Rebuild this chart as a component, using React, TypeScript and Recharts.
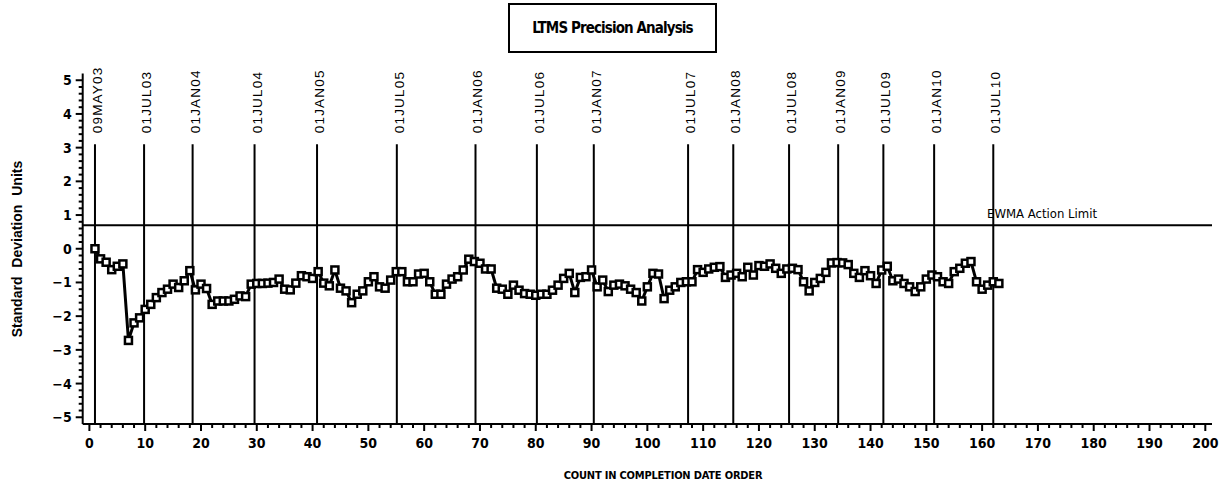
import React from 'react';
import { LineChart, Line, XAxis, YAxis, ReferenceLine } from 'recharts';

// EWMA values, one per test, in completion date order
const ewmaValues = [
  0.0, -0.3, -0.4, -0.62, -0.52, -0.45, -2.72, -2.2, -2.05, -1.8,
  -1.65, -1.45, -1.3, -1.2, -1.05, -1.15, -0.95, -0.65, -1.22, -1.05,
  -1.18, -1.65, -1.55, -1.55, -1.55, -1.5, -1.4, -1.42, -1.05, -1.03,
  -1.03, -1.02, -1.0, -0.9, -1.2, -1.22, -1.02, -0.8, -0.83, -0.88,
  -0.68, -1.02, -1.1, -0.63, -1.17, -1.25, -1.6, -1.35, -1.25, -0.98,
  -0.83, -1.13, -1.17, -0.93, -0.68, -0.68, -0.98, -0.98, -0.75, -0.73,
  -0.98, -1.35, -1.35, -1.05, -0.9, -0.83, -0.63, -0.31, -0.38, -0.43,
  -0.6, -0.6, -1.17, -1.2, -1.35, -1.08, -1.23, -1.33, -1.35, -1.38,
  -1.35, -1.35, -1.23, -1.08, -0.88, -0.73, -1.3, -0.85, -0.83, -0.63,
  -1.13, -0.93, -1.27, -1.08, -1.05, -1.1, -1.2, -1.3, -1.55, -1.13,
  -0.73, -0.75, -1.48, -1.23, -1.13, -1.0, -0.98, -0.98, -0.62, -0.7,
  -0.6, -0.55, -0.53, -0.85, -0.78, -0.73, -0.83, -0.55, -0.78, -0.5,
  -0.52, -0.45, -0.58, -0.73, -0.6, -0.58, -0.62, -0.98, -1.25, -1.0,
  -0.88, -0.7, -0.42, -0.41, -0.42, -0.47, -0.73, -0.85, -0.65, -0.8,
  -1.03, -0.63, -0.52, -0.95, -0.9, -1.03, -1.13, -1.27, -1.13, -0.9,
  -0.78, -0.83, -0.98, -1.03, -0.68, -0.58, -0.43, -0.38, -0.98, -1.2,
  -1.08, -0.98, -1.03,
];

// date markers along the count axis
const dateLabels = [
  '09MAY03', '01JUL03', '01JAN04', '01JUL04', '01JAN05', '01JUL05', '01JAN06', '01JUL06',
  '01JAN07', '01JUL07', '01JAN08', '01JUL08', '01JAN09', '01JUL09', '01JAN10', '01JUL10',
];
const dateCounts = [
  1.0, 9.8, 18.5, 29.6, 40.8, 55.1, 69.2, 80.2,
  90.4, 107.3, 115.4, 125.4, 134.2, 142.3, 151.4, 162.0,
];

const actionLimit = 0.7;

const xMajorTicks = [0, 10, 20, 30, 40, 50, 60, 70, 80, 90, 100, 110, 120, 130, 140, 150, 160, 170, 180, 190, 200];
const yMajorTicks = [-5, -4, -3, -2, -1, 0, 1, 2, 3, 4, 5];

const xTicks: number[] = [];
for (let i = 0; i <= 100; i++) xTicks.push(i * 2);
const yTicks: number[] = [];
for (let i = -25; i <= 25; i++) yTicks.push(Math.round(i * 2) / 10);

const chartData = ewmaValues.map((v, i) => ({ count: i + 1, ewma: v }));

const PLOT_LEFT = 82.7;
const PLOT_BOTTOM = 424;
const tickFont = "'Liberation Sans Narrow', 'DejaVu Sans Condensed', sans-serif";

const fmt = (v: number) => (v < 0 ? `\u2212${-v}` : `${v}`);

const XTick = (props: any) => {
  const { payload } = props;
  const x = payload.coordinate;
  const major = xMajorTicks.includes(payload.value);
  return (
    <g>
      <line x1={x} x2={x} y1={PLOT_BOTTOM} y2={PLOT_BOTTOM + (major ? 7 : 4)} stroke="#000" strokeWidth={2} />
      {major && (
        <text x={x} y={PLOT_BOTTOM + 24} textAnchor="middle" fontFamily={tickFont} fontWeight="bold" fontSize={14} fill="#000">
          {payload.value}
        </text>
      )}
    </g>
  );
};

const YTick = (props: any) => {
  const { payload } = props;
  const y = payload.coordinate;
  const major = yMajorTicks.some((t) => Math.abs(t - payload.value) < 1e-6);
  return (
    <g>
      <line x1={PLOT_LEFT - (major ? 7 : 4)} x2={PLOT_LEFT} y1={y} y2={y} stroke="#000" strokeWidth={2} />
      {major && (
        <text x={PLOT_LEFT - 11} y={y + 5} textAnchor="end" fontFamily={tickFont} fontWeight="bold" fontSize={14} fill="#000">
          {fmt(Math.round(payload.value))}
        </text>
      )}
    </g>
  );
};

const SquareDot = (props: any) => {
  const { cx, cy, index } = props;
  if (cx == null || cy == null) return null;
  return <rect key={`d${index}`} x={cx - 3.5} y={cy - 3.5} width={7} height={7} fill="#fff" stroke="#000" strokeWidth={2.5} />;
};

const dateLabel = (text: string) => (props: any) => {
  const vb = props.viewBox || {};
  const x = vb.x + 7;
  const y = vb.y - 11;
  return (
    <text
      x={x}
      y={y}
      transform={`rotate(-90, ${x}, ${y})`}
      fontFamily="'Liberation Sans', Arial, sans-serif"
      fontSize={13.5}
      letterSpacing={1.2}
      fill="#000"
    >
      {text}
    </text>
  );
};

export default function App() {
  return (
    <div style={{ position: 'absolute', left: 0, top: 0, width: 1225, height: 489, background: '#fff' }}>
      <div
        style={{
          position: 'absolute',
          left: 508,
          top: 3,
          width: 205,
          height: 46,
          border: '2px solid #000',
          display: 'flex',
          alignItems: 'center',
          justifyContent: 'center',
          fontFamily: tickFont,
          fontWeight: 'bold',
          fontSize: 15,
          letterSpacing: -0.9,
        }}
      >
        LTMS Precision Analysis
      </div>
      <LineChart
        width={1225}
        height={489}
        data={chartData}
        margin={{ top: 73.5, right: 13, bottom: 25, left: PLOT_LEFT - 60 }}
      >
        <XAxis
          dataKey="count"
          type="number"
          domain={[-1.2, 201.2]}
          ticks={xTicks}
          interval={0}
          height={40}
          allowDataOverflow
          axisLine={{ stroke: '#000', strokeWidth: 2 }}
          tickLine={false}
          tick={<XTick />}
        />
        <YAxis
          type="number"
          domain={[-5.2, 5.2]}
          ticks={yTicks}
          interval={0}
          width={60}
          allowDataOverflow
          axisLine={{ stroke: '#000', strokeWidth: 2 }}
          tickLine={false}
          tick={<YTick />}
        />
        <ReferenceLine
          y={actionLimit}
          stroke="#000"
          strokeWidth={2}
          label={(props: any) => {
            const vb = props.viewBox || {};
            return (
              <text x={987} y={(vb.y ?? 0) - 7} fontFamily={tickFont} fontSize={13} fill="#000">
                EWMA Action Limit
              </text>
            );
          }}
        />
        {dateCounts.map((c, i) => (
          <ReferenceLine
            key={dateLabels[i]}
            segment={[{ x: c, y: 3.1 }, { x: c, y: -5.2 }]}
            stroke="#000"
            strokeWidth={2}
            label={dateLabel(dateLabels[i])}
          />
        ))}
        <Line
          type="linear"
          dataKey="ewma"
          stroke="#000"
          strokeWidth={3}
          dot={<SquareDot />}
          activeDot={false}
          isAnimationActive={false}
        />
      </LineChart>
      <svg width={1225} height={489} style={{ position: 'absolute', left: 0, top: 0, pointerEvents: 'none' }}>
        <text
          x={17}
          y={249}
          transform="rotate(-90, 17, 249)"
          textAnchor="middle"
          dominantBaseline="central"
          fontFamily="'Liberation Sans', Arial, sans-serif"
          fontWeight="bold"
          fontSize={14}
          wordSpacing={5}
          fill="#000"
        >
          Standard Deviation Units
        </text>
        <text x={663} y={479} textAnchor="middle" fontFamily={tickFont} fontWeight="bold" fontSize={11} letterSpacing={-0.2} fill="#000">
          COUNT IN COMPLETION DATE ORDER
        </text>
      </svg>
    </div>
  );
}
